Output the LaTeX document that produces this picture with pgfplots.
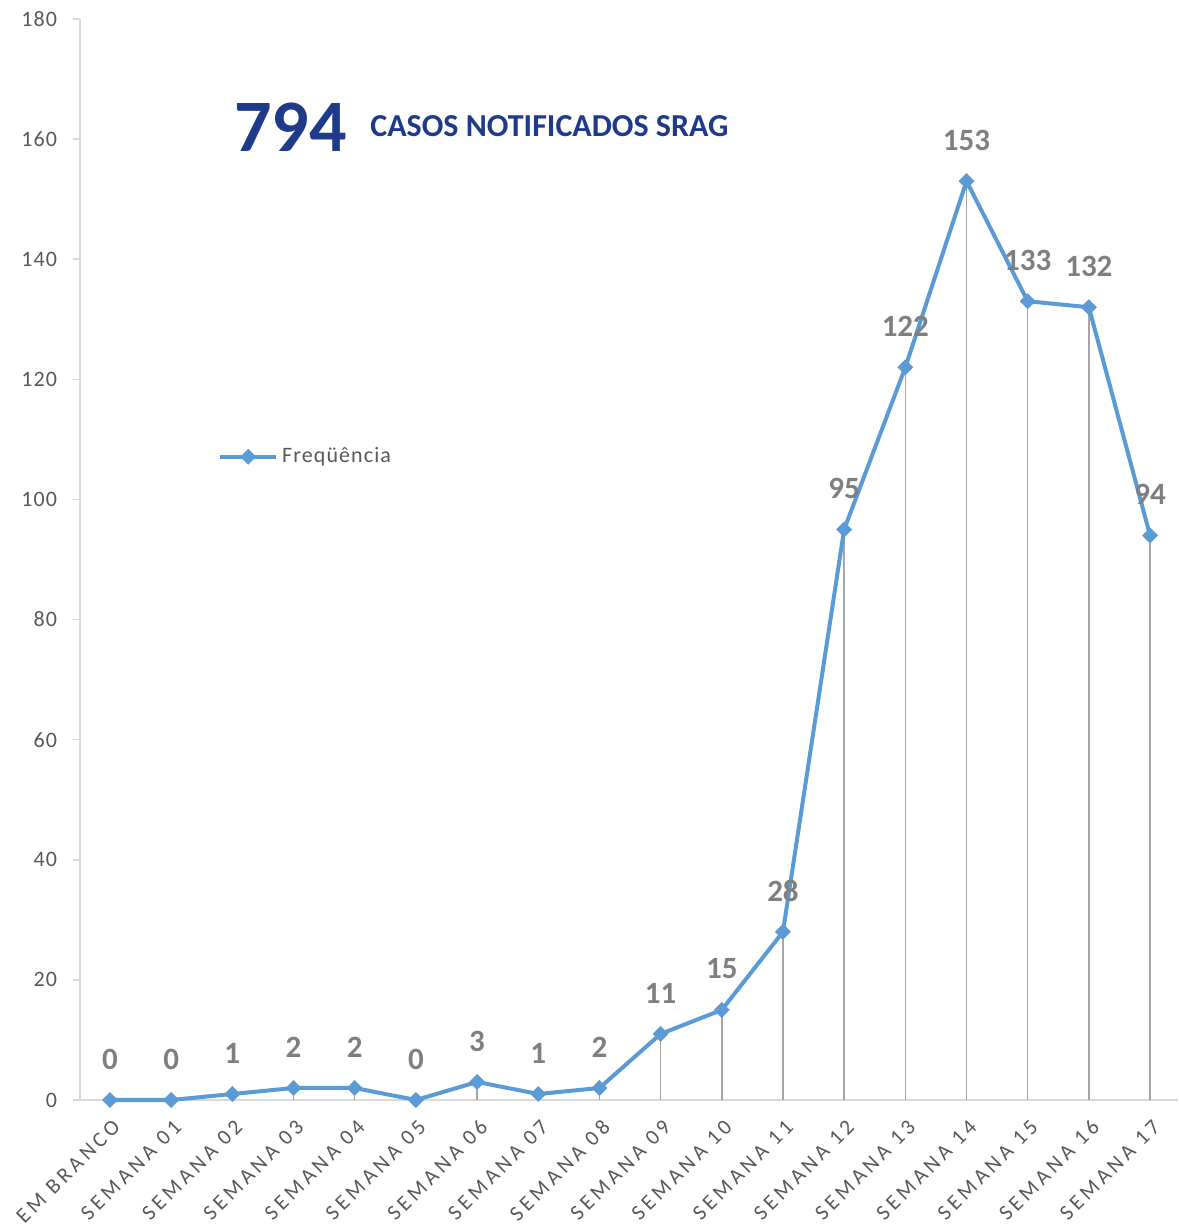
\documentclass[border=0pt]{standalone}
\usepackage{pgfplots}
\pgfplotsset{compat=1.18}
\usepackage{fontspec}
\setmainfont{Carlito}
\newfontfamily\spaced[LetterSpace=18]{Carlito}
\newfontfamily\lspaced[LetterSpace=5]{Carlito}
\definecolor{lineblue}{HTML}{5B9BD5}
\definecolor{titleblue}{HTML}{1F3A8A}
\definecolor{lblgray}{HTML}{7F7F7F}
\definecolor{tickgray}{HTML}{595959}
\definecolor{axgray}{HTML}{D9D9D9}
\definecolor{dropgray}{HTML}{A6A6A6}
\begin{document}
\begin{tikzpicture}
\useasboundingbox (-40pt,-62pt) rectangle (549pt,550pt);
\begin{axis}[
  at={(0,0)}, anchor=south west,
  scale only axis, width=549pt, height=540.5pt,
  xmin=-0.49, xmax=17.457, ymin=0, ymax=180,
  clip=false,
  axis x line=bottom, axis y line=left,
  axis line style={draw=axgray, line width=0.75pt, -},
  ytick={0,20,...,180},
  xtick={0,...,17},
  xticklabels={EM BRANCO, SEMANA 01, SEMANA 02, SEMANA 03, SEMANA 04, SEMANA 05, SEMANA 06, SEMANA 07, SEMANA 08, SEMANA 09, SEMANA 10, SEMANA 11, SEMANA 12, SEMANA 13, SEMANA 14, SEMANA 15, SEMANA 16, SEMANA 17},
  x tick label style={rotate=45, anchor=north east, yshift=-1pt, font=\spaced\fontsize{10.8}{13}\selectfont, text=tickgray},
  y tick label style={xshift=-4.5pt, font=\lspaced\fontsize{11}{13}\selectfont, text=tickgray},
  /pgf/number format/assume math mode=true,
  xtick style={draw=none},
  ytick style={draw=axgray, line width=0.75pt},
  tick align=outside, major tick length=3.5pt,
  legend style={draw=none, fill=none, at={(0.12,0.595)}, anchor=west, font=\lspaced\fontsize{11}{13}\selectfont},
  legend image code/.code={\draw[mark repeat=2,mark phase=2] plot coordinates {(0pt,0pt)(14pt,0pt)(28pt,0pt)};},
]
\addplot[ycomb, draw=dropgray, line width=0.75pt, forget plot] coordinates {
(0,0) (1,0) (2,1) (3,2) (4,2) (5,0) (6,3) (7,1) (8,2) (9,11) (10,15) (11,28) (12,95) (13,122) (14,153) (15,133) (16,132) (17,94)};
\addplot[color=lineblue, line width=2pt, mark=square*, mark size=2.65pt,
  mark options={rotate=45, fill=lineblue, draw=lineblue, line width=0.3pt},
  nodes near coords,
  every node near coord/.append style={font=\bfseries\fontsize{15.5}{18}\selectfont, text=lblgray, anchor=center, yshift=20.5pt}]
coordinates {
(0,0) (1,0) (2,1) (3,2) (4,2) (5,0) (6,3) (7,1) (8,2) (9,11) (10,15) (11,28) (12,95) (13,122) (14,153) (15,133) (16,132) (17,94)};
\addlegendentry{\textcolor{tickgray}{Freqüência}}
\node[anchor=base west, inner sep=0, text=titleblue, font=\bfseries\fontsize{37}{40}\selectfont] at (axis cs:2.027,158) {794};
\node[anchor=base west, inner sep=0, text=titleblue, font=\bfseries\fontsize{16}{18}\selectfont] at (axis cs:4.25,160.5) {CASOS NOTIFICADOS SRAG};
\end{axis}
\end{tikzpicture}
\end{document}
